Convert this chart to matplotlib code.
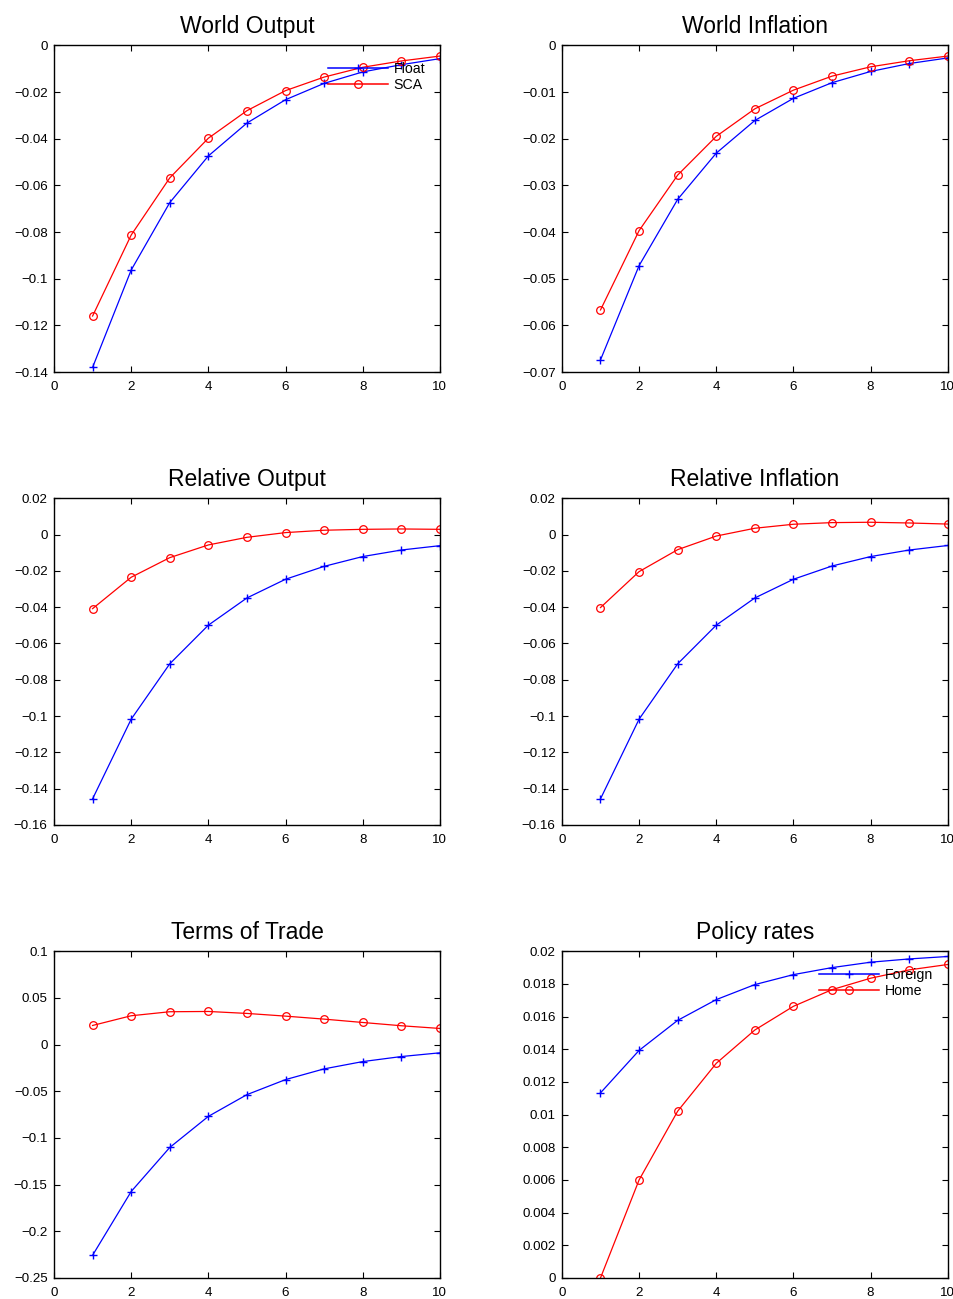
import matplotlib
matplotlib.use("Agg")
import matplotlib.pyplot as plt
from matplotlib.ticker import FuncFormatter, MultipleLocator

plt.rcParams['font.family'] = ['Liberation Sans', 'DejaVu Sans']

periods = [1, 2, 3, 4, 5, 6, 7, 8, 9, 10]

world_output_float = [-0.138, -0.0963, -0.0674, -0.0474, -0.0333, -0.0233, -0.0163, -0.0114, -0.0083, -0.0057]
world_output_sca = [-0.116, -0.0813, -0.0568, -0.0398, -0.0280, -0.0194, -0.0136, -0.0094, -0.0067, -0.0046]

world_infl_float = [-0.0674, -0.0472, -0.0330, -0.0231, -0.0161, -0.01135, -0.0080, -0.0056, -0.0039, -0.0027]
world_infl_sca = [-0.0567, -0.0397, -0.0278, -0.0195, -0.0136, -0.0096, -0.0066, -0.0046, -0.0033, -0.0023]

rel_output_float = [-0.1456, -0.1017, -0.0712, -0.0499, -0.0349, -0.0246, -0.0175, -0.0121, -0.0085, -0.0061]
rel_output_sca = [-0.0408, -0.0235, -0.0127, -0.0057, -0.0015, 0.0011, 0.0024, 0.0029, 0.0031, 0.0029]

rel_infl_float = [-0.1456, -0.1017, -0.0712, -0.0499, -0.0349, -0.0246, -0.0173, -0.0121, -0.0085, -0.0060]
rel_infl_sca = [-0.0402, -0.0204, -0.0083, -0.0008, 0.0035, 0.0057, 0.0066, 0.0068, 0.0064, 0.0058]

tot_float = [-0.2257, -0.1574, -0.1102, -0.0769, -0.0536, -0.0375, -0.0260, -0.0182, -0.0128, -0.0088]
tot_sca = [0.0205, 0.0309, 0.0352, 0.0355, 0.0334, 0.0305, 0.0273, 0.0237, 0.0202, 0.0173]

policy_foreign = [0.01133, 0.01393, 0.01577, 0.01704, 0.01796, 0.01857, 0.01900, 0.01933, 0.01953, 0.01968]
policy_home = [0.0, 0.0060, 0.01021, 0.01314, 0.01518, 0.01663, 0.01765, 0.01835, 0.01886, 0.01919]

titles = ["World Output", "World Inflation", "Relative Output",
          "Relative Inflation", "Terms of Trade", "Policy rates"]
series_blue = [world_output_float, world_infl_float, rel_output_float,
               rel_infl_float, tot_float, policy_foreign]
series_red = [world_output_sca, world_infl_sca, rel_output_sca,
              rel_infl_sca, tot_sca, policy_home]
ylims = [(-0.14, 0), (-0.07, 0), (-0.16, 0.02), (-0.16, 0.02), (-0.25, 0.1), (0, 0.02)]
ysteps = [0.02, 0.01, 0.02, 0.02, 0.05, 0.002]
legend_labels = {0: ("Float", "SCA"), 5: ("Foreign", "Home")}

fig = plt.figure(figsize=(9.54, 12.99), dpi=100)

lefts = [0.0566, 0.589]
bottoms = [0.7136, 0.3649, 0.0162]
width = 0.4045
height = 0.2515

def fmt(v, pos):
    if abs(v) < 1e-12:
        return "0"
    s = "%g" % round(v, 6)
    return s.replace("-", "\u2212")

for i in range(6):
    r, c = divmod(i, 2)
    ax = fig.add_axes([lefts[c], bottoms[r], width, height])
    lb, = ax.plot(periods, series_blue[i], color='#0000ff', lw=0.9, marker='+',
                  ms=6, mew=1.0)
    lr, = ax.plot(periods, series_red[i], color='#ff0000', lw=0.9, marker='o',
                  ms=5.5, mfc='none', mew=0.9)
    ax.set_xlim(0, 10)
    ax.set_ylim(*ylims[i])
    ax.xaxis.set_major_locator(MultipleLocator(2))
    ax.yaxis.set_major_locator(MultipleLocator(ysteps[i]))
    ax.yaxis.set_major_formatter(FuncFormatter(fmt))
    ax.set_title(titles[i], fontsize=16.5, pad=9)
    ax.tick_params(direction='in', top=True, right=True, length=4, width=0.8,
                   labelsize=9.6, pad=4.5)
    ax.tick_params(axis='x', pad=6.5)
    for sp in ax.spines.values():
        sp.set_linewidth(1.0)
    if i in legend_labels:
        leg = ax.legend([lb, lr], legend_labels[i], loc='upper right',
                        bbox_to_anchor=(0.962, 0.948), bbox_transform=ax.transAxes,
                        frameon=False, borderpad=0, borderaxespad=0, numpoints=1,
                        handlelength=4.2, handletextpad=0.42, labelspacing=0.15,
                        fontsize=10.2)
        for h in leg.get_lines():
            h.set_linewidth(1.1)

fig.savefig("out.png", dpi=100)
